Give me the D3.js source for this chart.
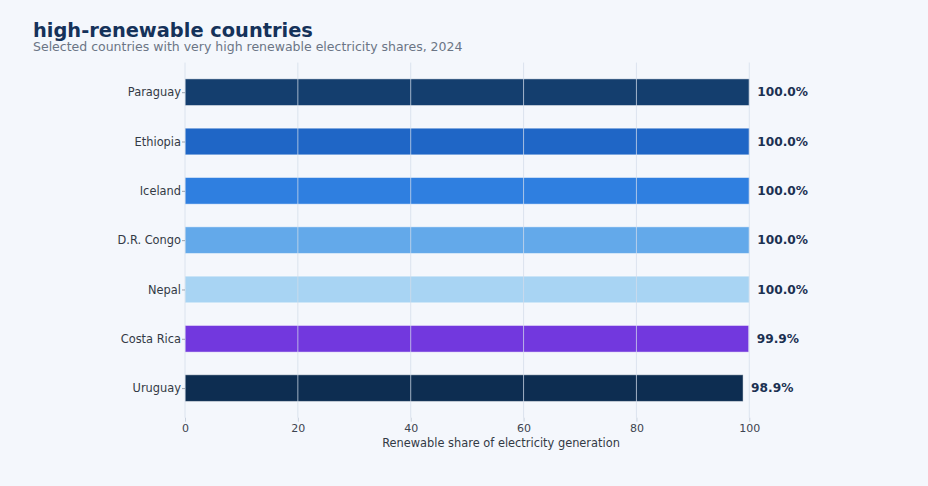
<!DOCTYPE html>
<html>
<head>
<meta charset="utf-8">
<script src="https://cdn.jsdelivr.net/npm/d3@7"></script>
<style>
  html, body { margin: 0; padding: 0; background: #f4f7fc; }
  svg { display: block; font-family: "DejaVu Sans", sans-serif; }
</style>
</head>
<body>
<svg id="chart" width="928" height="486"></svg>
<script>
// data
const countries = ['Paraguay', 'Ethiopia', 'Iceland', 'D.R. Congo', 'Nepal', 'Costa Rica', 'Uruguay'];
const shares = [100.0, 100.0, 100.0, 100.0, 100.0, 99.9, 98.9];
const barColors = ['#143e6e', '#1f66c6', '#2f7fe0', '#63a9ea', '#a8d4f3', '#7238de', '#0d2d51'];
const xTicks = [0, 20, 40, 60, 80, 100];

const W = 928, H = 486;
const FONT = '"DejaVu Sans", sans-serif';
const margin = { top: 62.6, left: 185, bottom: 68.3 };
const plotRight = 817;

const svg = d3.select('#chart');
svg.append('rect').attr('width', W).attr('height', H).attr('fill', '#f4f7fc');

const x = d3.scaleLinear().domain([0, 112]).range([margin.left, plotRight]);
const y = d3.scalePoint().domain(countries).range([margin.top, H - margin.bottom]).padding(0.6);
const barH = y.step() * 0.54;

const rows = countries.map((c, i) => ({ country: c, value: shares[i], color: barColors[i] }));

// bars
svg.append('g').selectAll('rect')
    .data(rows)
    .join('rect')
    .attr('x', x(0))
    .attr('y', d => y(d.country) - barH / 2)
    .attr('width', d => x(d.value) - x(0))
    .attr('height', barH)
    .attr('fill', d => d.color)
    .attr('stroke', '#ffffff')
    .attr('stroke-opacity', 0.45)
    .attr('stroke-width', 1);

// grid on top of bars
svg.append('g').selectAll('line')
    .data(xTicks)
    .join('line')
    .attr('x1', d => x(d)).attr('x2', d => x(d))
    .attr('y1', margin.top).attr('y2', H - margin.bottom)
    .attr('stroke', '#d3dcea')
    .attr('stroke-opacity', 0.75)
    .attr('stroke-width', 1);

// x axis
const xAxis = svg.append('g')
    .attr('transform', `translate(0,${H - margin.bottom})`)
    .call(d3.axisBottom(x).tickValues(xTicks).tickSize(4).tickPadding(3).tickFormat(d3.format('d')))
    .attr('font-family', FONT);
xAxis.select('.domain').remove();
xAxis.selectAll('.tick line').attr('stroke', '#c9d2de');
xAxis.selectAll('.tick text').attr('fill', '#3d4450').attr('font-size', 11);

// y axis
const yAxis = svg.append('g')
    .attr('transform', `translate(${margin.left},0)`)
    .call(d3.axisLeft(y).tickSize(3).tickPadding(1))
    .attr('font-family', FONT);
yAxis.select('.domain').remove();
yAxis.selectAll('.tick line').attr('stroke', '#9aa3ae');
yAxis.selectAll('.tick text').attr('fill', '#333a45').attr('font-size', 11.4);

// value labels
svg.append('g').selectAll('text')
    .data(rows)
    .join('text')
    .attr('x', d => x(d.value) + 8)
    .attr('y', d => y(d.country))
    .attr('dy', '0.35em')
    .attr('fill', '#1b3152')
    .attr('font-size', 12.2)
    .attr('font-weight', 'bold')
    .text(d => d.value.toFixed(1) + '%');

// axis title
svg.append('text')
    .attr('x', (x.range()[0] + x.range()[1]) / 2)
    .attr('y', 447)
    .attr('text-anchor', 'middle')
    .attr('fill', '#333a45')
    .attr('font-size', 11.4)
    .text('Renewable share of electricity generation');

// titles
svg.append('text')
    .attr('x', 33).attr('y', 36.5)
    .attr('fill', '#15325a')
    .attr('font-size', 19.4)
    .attr('font-weight', 'bold')
    .text('high-renewable countries');
svg.append('text')
    .attr('x', 33).attr('y', 50.5)
    .attr('fill', '#6b7585')
    .attr('font-size', 12.5)
    .text('Selected countries with very high renewable electricity shares, 2024');
</script>
</body>
</html>
